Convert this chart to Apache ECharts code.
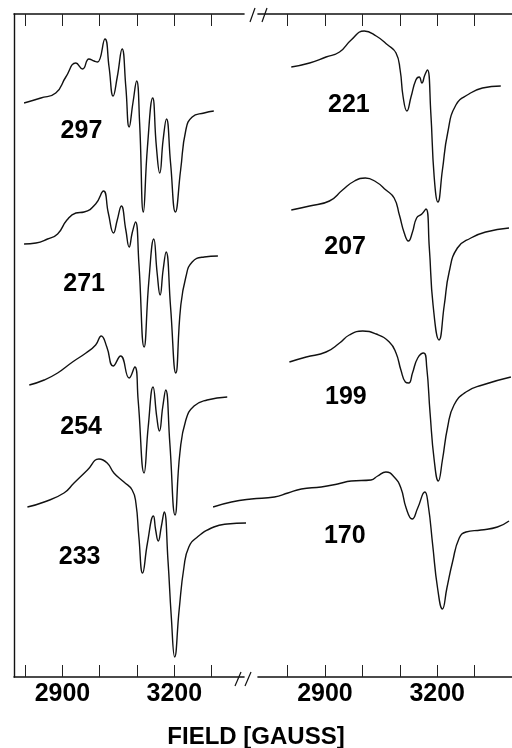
<!DOCTYPE html>
<html>
<head>
<meta charset="utf-8">
<script src="https://cdn.jsdelivr.net/npm/echarts@6/dist/echarts.min.js"></script>
<style>
html,body{margin:0;padding:0;background:#fff;}
#c{width:512px;height:748px;}
</style>
</head>
<body>
<div id="c"></div>
<script>
// Field axis ticks (gauss)
const ticksLeft = [2800, 2900, 3000, 3100, 3200, 3300];
const ticksRight = [2800, 2900, 3000, 3100, 3200, 3300, 3400];
const tickLabels = [2900, 3200];

// Temperature labels (K)
const tempsLeft = ['297', '271', '254', '233'];
const tempsRight = ['221', '207', '199', '170'];

// Spectra: [field (G), stacked signal height (arb. units)]
const s297 = [[2797,574],[2842,579],[2882,584],[2909,600],[2936,614],[2954,608],[2971,618],[2985,616],[2994,615],[3014,638],[3025,610],[3036,581],[3047,600],[3060,628],[3070,590],[3079,550],[3089,574],[3099,596],[3107,554],[3117,465],[3128,530],[3142,579],[3152,530],[3161,504],[3170,537],[3179,558],[3190,514],[3203,465],[3217,507],[3231,547],[3248,560],[3280,564],[3306,566]];
const s271 = [[2797,433],[2829,434],[2860,438],[2887,443],[2912,457],[2936,464],[2958,465],[2989,473],[3010,486],[3023,464],[3037,444],[3047,457],[3058,471],[3070,447],[3079,430],[3087,444],[3096,455],[3105,414],[3119,330],[3132,397],[3145,438],[3154,404],[3162,382],[3170,407],[3178,425],[3190,370],[3204,304],[3217,370],[3231,400],[3248,415],[3280,420],[3317,421]];
const s254 = [[2811,292],[2851,297],[2887,304],[2927,315],[2963,324],[2989,332],[3004,341],[3019,330],[3036,311],[3056,321],[3079,299],[3094,310],[3103,277],[3119,204],[3130,250],[3143,290],[3153,260],[3160,246],[3169,270],[3177,287],[3188,234],[3202,162],[3215,224],[3231,257],[3253,271],[3288,277],[3342,280]];
const s233 = [[2806,170],[2851,175],[2904,184],[2931,194],[2967,207],[2998,218],[3020,214],[3038,204],[3065,195],[3087,187],[3097,174],[3105,140],[3115,104],[3128,134],[3144,161],[3150,147],[3157,136],[3165,150],[3173,165],[3183,117],[3192,60],[3201,20],[3213,67],[3226,110],[3239,130],[3262,140],[3306,150],[3342,153],[3400,154]];
const s221 = [[2810,610],[2859,614],[2903,620],[2939,625],[2970,637],[3005,646],[3037,641],[3068,632],[3090,624],[3101,607],[3109,580],[3119,566],[3130,580],[3143,597],[3152,600],[3159,594],[3167,602],[3174,607],[3183,564],[3192,500],[3202,475],[3214,507],[3228,544],[3250,572],[3285,583],[3321,589],[3370,591]];
const s207 = [[2810,467],[2859,471],[2912,476],[2947,487],[2979,496],[3008,499],[3037,495],[3063,487],[3085,479],[3099,462],[3112,444],[3123,436],[3134,445],[3145,459],[3159,463],[3170,468],[3179,429],[3189,372],[3205,337],[3219,372],[3232,405],[3254,429],[3290,439],[3330,445],[3392,449]];
const s199 = [[2805,315],[2850,320],[2903,325],[2939,334],[2965,342],[3001,346],[3037,343],[3072,335],[3090,324],[3103,307],[3115,295],[3124,294],[3134,304],[3148,319],[3164,324],[3172,310],[3181,264],[3192,217],[3203,196],[3214,217],[3228,250],[3245,272],[3277,285],[3321,292],[3397,300]];
const s170 = [[2601,170],[2650,175],[2703,178],[2765,180],[2801,184],[2837,188],[2890,190],[2934,193],[2970,196],[3023,197],[3041,201],[3063,205],[3085,200],[3103,189],[3117,169],[3133,158],[3148,169],[3167,185],[3176,172],[3188,132],[3201,89],[3214,68],[3226,89],[3241,115],[3259,139],[3277,145],[3317,147],[3361,150],[3392,156]];

// Label anchor points in data units [field, height]
const labelPosLeft = [[2951,546],[2958,393],[2950,250],[2946,120]];
const labelPosRight = [[2964,572],[2954,430],[2956,280],[2953,141]];

const spectraLeft = [s297, s271, s254, s233];
const spectraRight = [s221, s207, s199, s170];

const FONT = '"Liberation Sans", Arial, Helvetica, sans-serif';
const chart = echarts.init(document.getElementById('c'), null, {renderer: 'canvas'});

function xAx(gridIndex, min, max, ticks, pos, showLabel) {
  return {
    type: 'value', gridIndex, min, max, position: pos,
    axisLine: {show: true, onZero: false, lineStyle: {color: '#111', width: 1.6}},
    axisTick: {show: true, inside: true, length: 12, customValues: ticks, lineStyle: {color: '#222', width: 1}},
    axisLabel: {show: showLabel, customValues: tickLabels, formatter: v => String(v), color: '#000', fontFamily: FONT, fontWeight: 'bold', fontSize: 25, margin: 5},
    splitLine: {show: false}
  };
}

const series = [];
function addSeries(arr, labels, pos, xi, yi) {
  arr.forEach((d, i) => {
    series.push({
      type: 'line', xAxisIndex: xi, yAxisIndex: yi, data: d,
      showSymbol: false, smooth: 0.5, clip: false,
      lineStyle: {color: '#111', width: 1.4},
      markPoint: {
        symbol: 'rect', symbolSize: 1, itemStyle: {color: 'rgba(0,0,0,0)'},
        label: {show: true, formatter: labels[i], color: '#000', fontFamily: FONT, fontWeight: 'bold', fontSize: 25, position: 'inside'},
        data: [{coord: pos[i]}]
      }
    });
  });
}
addSeries(spectraLeft, tempsLeft, labelPosLeft, 0, 0);
// right-panel spectra use a hidden, wider axis with the same scale as the visible right axis
addSeries(spectraRight, tempsRight, labelPosRight, 4, 2);

const option = {
  backgroundColor: '#fff',
  animation: false,
  grid: [
    {left: 14, top: 14, width: 230, height: 663},
    {left: 258, top: 14, width: 254, height: 663},
    {left: 200, top: 14, width: 312, height: 663}
  ],
  xAxis: [
    xAx(0, 2770, 3387, ticksLeft, 'bottom', true),
    xAx(0, 2770, 3387, ticksLeft, 'top', false),
    xAx(1, 2721, 3400, ticksRight, 'bottom', true),
    xAx(1, 2721, 3400, ticksRight, 'top', false),
    {type: 'value', gridIndex: 2, min: 2566, max: 3400, show: false}
  ],
  yAxis: [
    {type: 'value', gridIndex: 0, min: 0, max: 663, axisLine: {show: true, lineStyle: {color: '#111', width: 1.4}}, axisTick: {show: false}, axisLabel: {show: false}, splitLine: {show: false}},
    {type: 'value', gridIndex: 1, min: 0, max: 663, show: false},
    {type: 'value', gridIndex: 2, min: 0, max: 663, show: false}
  ],
  series: series,
  graphic: [
    {type: 'line', shape: {x1: 235, y1: 686, x2: 241, y2: 672}, style: {stroke: '#111', lineWidth: 1.2}},
    {type: 'line', shape: {x1: 245, y1: 686, x2: 251, y2: 672}, style: {stroke: '#111', lineWidth: 1.2}},
    {type: 'line', shape: {x1: 250, y1: 22, x2: 255, y2: 8}, style: {stroke: '#111', lineWidth: 1.2}},
    {type: 'line', shape: {x1: 262, y1: 22, x2: 267, y2: 8}, style: {stroke: '#111', lineWidth: 1.2}},
    {type: 'text', left: 'center', top: 725, style: {text: 'FIELD [GAUSS]', fill: '#000', font: 'bold 24px ' + FONT}}
  ]
};
chart.setOption(option);
</script>
</body>
</html>
